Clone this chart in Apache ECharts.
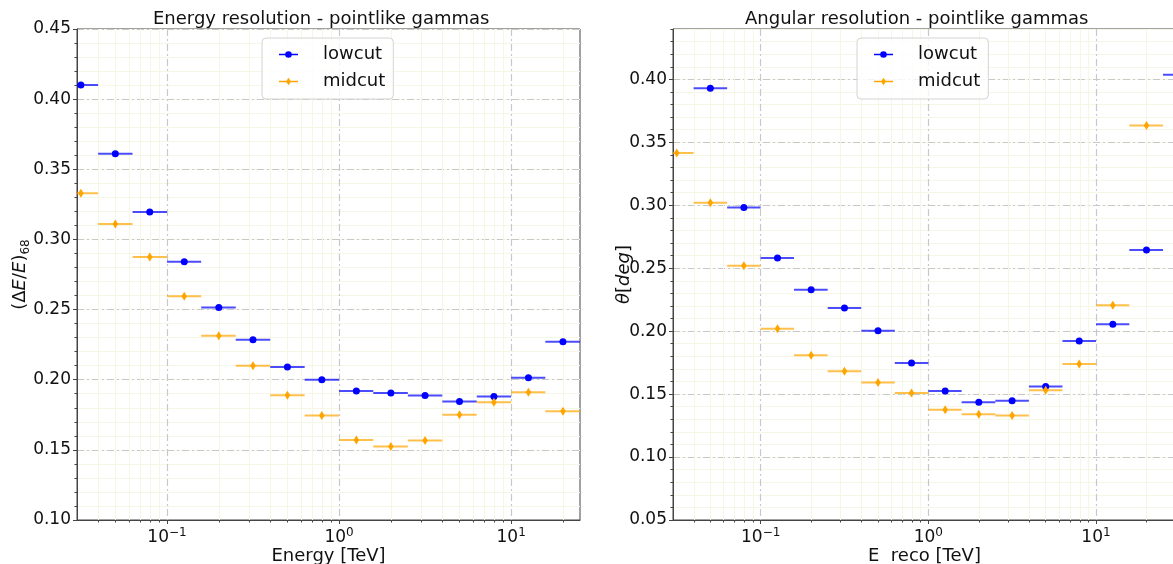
<!DOCTYPE html>
<html><head><meta charset="utf-8">
<script src="https://cdn.jsdelivr.net/npm/echarts@6/dist/echarts.min.js"></script>
<style>html,body{margin:0;padding:0;background:#fff}#c{width:1173px;height:564px}</style>
</head><body><div id="c"></div>
<script>
// ---- data ----
const binCenter = [0.0316,0.0501,0.0794,0.126,0.2,0.316,0.501,0.794,1.26,2.0,3.16,5.01,7.94,12.6,20.0,31.6];
const binLow    = [0.0251,0.0398,0.0631,0.1,0.158,0.251,0.398,0.631,1.0,1.58,2.51,3.98,6.31,10.0,15.8,25.1];
const binHigh   = [0.0398,0.0631,0.1,0.158,0.251,0.398,0.631,1.0,1.58,2.51,3.98,6.31,10.0,15.8,25.1,39.8];
const energyLowcut  = [0.410,0.361,0.3195,0.284,0.2515,0.2285,0.209,0.200,0.192,0.1905,0.1888,0.1845,0.188,0.2014,0.227,null];
const energyMidcut  = [0.333,0.311,0.2874,0.2595,0.2314,0.210,0.189,0.1745,0.157,0.1524,0.1566,0.175,0.184,0.191,0.1776,null];
const angularLowcut = [null,0.393,0.2982,0.2581,0.2328,0.2184,0.2003,0.1748,0.1525,0.1435,0.1448,0.156,0.1921,0.2054,0.2644,0.4037];
const angularMidcut = [0.3415,0.3019,0.2519,0.2019,0.1809,0.1682,0.1592,0.1509,0.1376,0.1339,0.1331,0.153,0.174,0.2206,0.3633,null];
const xMajorTicks = [0.1, 1, 10];
const energyYTicks  = [0.10,0.15,0.20,0.25,0.30,0.35,0.40,0.45];
const angularYTicks = [0.05,0.10,0.15,0.20,0.25,0.30,0.35,0.40];

const FONT = 'DejaVu Sans';
const BLUE = '#0000ff', ORANGE = '#ffa500';

function minorLog(min, max) {
  const out = [];
  for (let e = -3; e <= 3; e++) for (let m = 2; m <= 9; m++) {
    const v = m * Math.pow(10, e);
    if (v > min * 1.0001 && v < max * 0.9999) out.push(v);
  }
  return out;
}
function minorLin(min, max) {
  const out = [];
  for (let k = Math.round(min * 100); k <= Math.round(max * 100); k++) out.push(k / 100);
  return out;
}
function build(vals) {
  const d = [];
  vals.forEach((v, i) => { if (v !== null) d.push([binCenter[i], v, binLow[i], binHigh[i]]); });
  return d;
}
function renderer(color, shape) {
  return function (params, api) {
    const y = api.value(1);
    const c = api.coord([api.value(0), y]);
    const a = api.coord([api.value(2), y]);
    const b = api.coord([api.value(3), y]);
    const marker = shape === 'circle'
      ? { type: 'circle', shape: { cx: c[0], cy: c[1], r: 3.5 }, style: { fill: color } }
      : { type: 'polygon', shape: { points: [[c[0], c[1]-4.5],[c[0]+2.8, c[1]],[c[0], c[1]+4.5],[c[0]-2.8, c[1]]] }, style: { fill: color } };
    return { type: 'group', children: [
      { type: 'line', shape: { x1: a[0], y1: a[1], x2: b[0], y2: b[1] }, style: { stroke: color, lineWidth: 2, opacity: 0.7 } },
      marker ] };
  };
}
const supFmt = v => { const e = Math.round(Math.log10(v)); return '{b|10}{s|' + (e < 0 ? '\u2212' + (-e) : e) + '}'; };
const tickRich = { b: { fontSize: 17, lineHeight: 22, fontFamily: FONT, color: '#111' }, s: { fontSize: 12, lineHeight: 12, verticalAlign: 'top', fontFamily: FONT, color: '#111' } };

const panels = [
  { left: 77, top: 29, width: 503, xmin: 0.03, xmax: 25.12, ymin: 0.10, ymax: 0.45, yticks: energyYTicks,
    title: 'Energy resolution - pointlike gammas', titleLeft: 153,
    xname: 'Energy [TeV]', yname: '(\u0394{i|E}/{i|E}){sub|68}', yGap: 45,
    low: energyLowcut, mid: energyMidcut, legendLeft: 262 },
  { left: 673, top: 29, width: 503, xmin: 0.03, xmax: 30, ymin: 0.05, ymax: 0.44, yticks: angularYTicks,
    title: 'Angular resolution - pointlike gammas', titleLeft: 745,
    xname: 'E  reco [TeV]', yname: '{i|\u03b8}[{i|deg}]', yGap: 37,
    low: angularLowcut, mid: angularMidcut, legendLeft: 857 }
];

const option = { backgroundColor: '#fff', animation: false, textStyle: { fontFamily: FONT },
  grid: [], xAxis: [], yAxis: [], series: [], title: [], legend: [] };

const gridLine = { color: '#c8c8c8', width: 1.2, type: [7, 3, 2, 3] };
const minorGrid = { color: '#f6f6e6', width: 1, type: 'solid' };
const lowIcon = 'path://M0,3.3 H20 V4.7 H0 Z M10,0.5 A3.5,3.5 0 1 1 9.99,0.5 Z';
const midIcon = 'path://M0,3.3 H20 V4.7 H0 Z M10,0 L12.6,4 L10,8 L7.4,4 Z';

panels.forEach((p, gi) => {
  option.grid.push({ left: p.left, top: p.top, width: p.width, height: 491, show: true, borderColor: '#444', borderWidth: 1,
    backgroundColor: 'transparent', containLabel: false, outerBoundsMode: 'none' });
  const xi = option.xAxis.length, yi = option.yAxis.length;
  // minor axes (gridlines + small ticks)
  option.xAxis.push({ type: 'log', logBase: 10, gridIndex: gi, min: p.xmin, max: p.xmax, position: 'bottom',
    axisLine: { show: false }, axisLabel: { show: false },
    axisTick: { show: true, length: 2.5, lineStyle: { color: '#444' }, customValues: minorLog(p.xmin, p.xmax) },
    splitLine: { show: true, lineStyle: minorGrid } });
  option.yAxis.push({ type: 'value', gridIndex: gi, min: p.ymin, max: p.ymax, position: 'left',
    axisLine: { show: false }, axisLabel: { show: false },
    axisTick: { show: true, length: 2.5, lineStyle: { color: '#444' }, customValues: minorLin(p.ymin, p.ymax) },
    splitLine: { show: true, lineStyle: minorGrid } });
  // major axes
  option.xAxis.push({ type: 'log', logBase: 10, gridIndex: gi, min: p.xmin, max: p.xmax, position: 'bottom',
    name: p.xname, nameLocation: 'middle', nameGap: 27, nameMoveOverlap: false,
    nameTextStyle: { fontSize: 18, color: '#111', fontFamily: FONT },
    axisLine: { show: true, lineStyle: { color: '#444', width: 1 } },
    axisTick: { show: true, length: 4, lineStyle: { color: '#444' }, customValues: xMajorTicks },
    axisLabel: { customValues: xMajorTicks, formatter: supFmt, rich: tickRich, margin: 7 },
    splitLine: { show: true, lineStyle: gridLine } });
  option.yAxis.push({ type: 'value', gridIndex: gi, min: p.ymin, max: p.ymax, position: 'left',
    name: p.yname, nameLocation: 'middle', nameGap: p.yGap, nameRotate: 90, nameMoveOverlap: false,
    nameTextStyle: { fontSize: 18, color: '#111', fontFamily: FONT, lineHeight: 24,
      rich: { i: { fontStyle: 'italic', fontSize: 18, lineHeight: 24, fontFamily: FONT, color: '#111' },
              sub: { fontSize: 12, lineHeight: 12, verticalAlign: 'bottom', fontFamily: FONT, color: '#111' } } },
    axisLine: { show: true, lineStyle: { color: '#444', width: 1 } },
    axisTick: { show: true, length: 4, lineStyle: { color: '#444' }, customValues: p.yticks },
    axisLabel: { customValues: p.yticks, formatter: v => v.toFixed(2), fontSize: 17, color: '#111', fontFamily: FONT, margin: 6 },
    splitLine: { show: true, lineStyle: gridLine } });
  const mx = xi + 1, my = yi + 1;
  option.series.push({ type: 'custom', name: 'lowcut', xAxisIndex: mx, yAxisIndex: my, clip: true,
    itemStyle: { color: BLUE }, renderItem: renderer(BLUE, 'circle'), encode: { x: 0, y: 1 }, data: build(p.low), z: 5 });
  option.series.push({ type: 'custom', name: 'midcut', xAxisIndex: mx, yAxisIndex: my, clip: true,
    itemStyle: { color: ORANGE }, renderItem: renderer(ORANGE, 'diamond'), encode: { x: 0, y: 1 }, data: build(p.mid), z: 5 });
  option.title.push({ text: p.title, left: p.titleLeft, top: 10, padding: 0,
    textStyle: { fontSize: 18, fontWeight: 'normal', color: '#111', fontFamily: FONT } });
  option.legend.push({ left: p.legendLeft, top: 38, orient: 'vertical', padding: [7, 8, 8, 17], itemGap: 8,
    itemWidth: 19, itemHeight: 8, backgroundColor: 'rgba(255,255,255,0.8)', borderColor: '#d4d4d4', borderWidth: 1, borderRadius: 4,
    textStyle: { fontSize: 18, color: '#111', fontFamily: FONT, padding: [0, 0, 0, 20], lineHeight: 19 },
    data: [{ name: 'lowcut', icon: lowIcon }, { name: 'midcut', icon: midIcon }], z: 10 });
});

const chart = echarts.init(document.getElementById('c'), null, { renderer: 'canvas' });
chart.setOption(option);
</script>
</body></html>
